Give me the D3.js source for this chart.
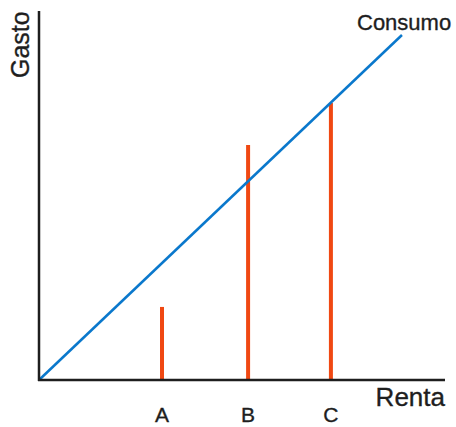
<!DOCTYPE html>
<html lang="es">
<head>
  <meta charset="UTF-8">
  <title>Consumo y renta</title>
  <style>
    * { margin: 0; box-sizing: border-box; }
    body { background: #fff; }
    svg { display: block; font-family: "Liberation Sans", Arial, sans-serif; }
    .axis-line { stroke: #1e1e1e; stroke-width: 2.5; }
    .label { fill: #1e1e1e; stroke: #1e1e1e; stroke-width: 0.35; }
  </style>
</head>
<body>
  <svg></svg>
  <script src="https://d3js.org/d3.v7.min.js"></script>
  <script>
    // renta (x) y gasto (y), escala 0..100
    const categories = ['A', 'B', 'C'];
    const renta = [30.3, 51.5, 71.9];
    const gasto = [19.8, 63.7, 75.1];
    const consumo = [[0, 0], [89.4, 93.5]];

    const width = 456;
    const height = 427;

    const svg = d3.select('svg')
      .attr('width', width)
      .attr('height', height);

    const x = d3.scaleLinear().domain([0, 100]).range([39, 445]);
    const y = d3.scaleLinear().domain([0, 100]).range([380, 11]);

    // bars
    svg.append('g')
      .selectAll('line')
      .data(renta)
      .enter().append('line')
      .attr('x1', d => x(d))
      .attr('x2', d => x(d))
      .attr('y1', y(0))
      .attr('y2', (d, i) => y(gasto[i]))
      .attr('stroke', '#f04812')
      .attr('stroke-width', 4);

    // consumption line
    svg.append('path')
      .datum(consumo)
      .attr('fill', 'none')
      .attr('stroke', '#0a78cc')
      .attr('stroke-width', 2.5)
      .attr('d', d3.line().x(d => x(d[0])).y(d => y(d[1])));

    // axes
    svg.append('line').attr('class', 'axis-line')
      .attr('x1', x(0)).attr('x2', x(0))
      .attr('y1', y(0) + 1).attr('y2', y(100));
    svg.append('line').attr('class', 'axis-line')
      .attr('x1', x(0) - 1).attr('x2', x(100))
      .attr('y1', y(0)).attr('y2', y(0));

    // category labels
    svg.append('g')
      .selectAll('text')
      .data(categories)
      .enter().append('text')
      .attr('class', 'label')
      .attr('x', (d, i) => x(renta[i]))
      .attr('y', 422)
      .attr('text-anchor', 'middle')
      .style('font-size', '21px')
      .text(d => d);

    svg.append('text')
      .attr('class', 'label')
      .attr('x', x(100))
      .attr('y', 406)
      .attr('text-anchor', 'end')
      .style('font-size', '26px')
      .text('Renta');

    svg.append('text')
      .attr('class', 'label')
      .attr('transform', 'translate(29,78) rotate(-90)')
      .style('font-size', '25px')
      .text('Gasto');

    svg.append('text')
      .attr('class', 'label')
      .attr('x', 357)
      .attr('y', 30)
      .style('font-size', '22px')
      .text('Consumo');
  </script>
</body>
</html>
